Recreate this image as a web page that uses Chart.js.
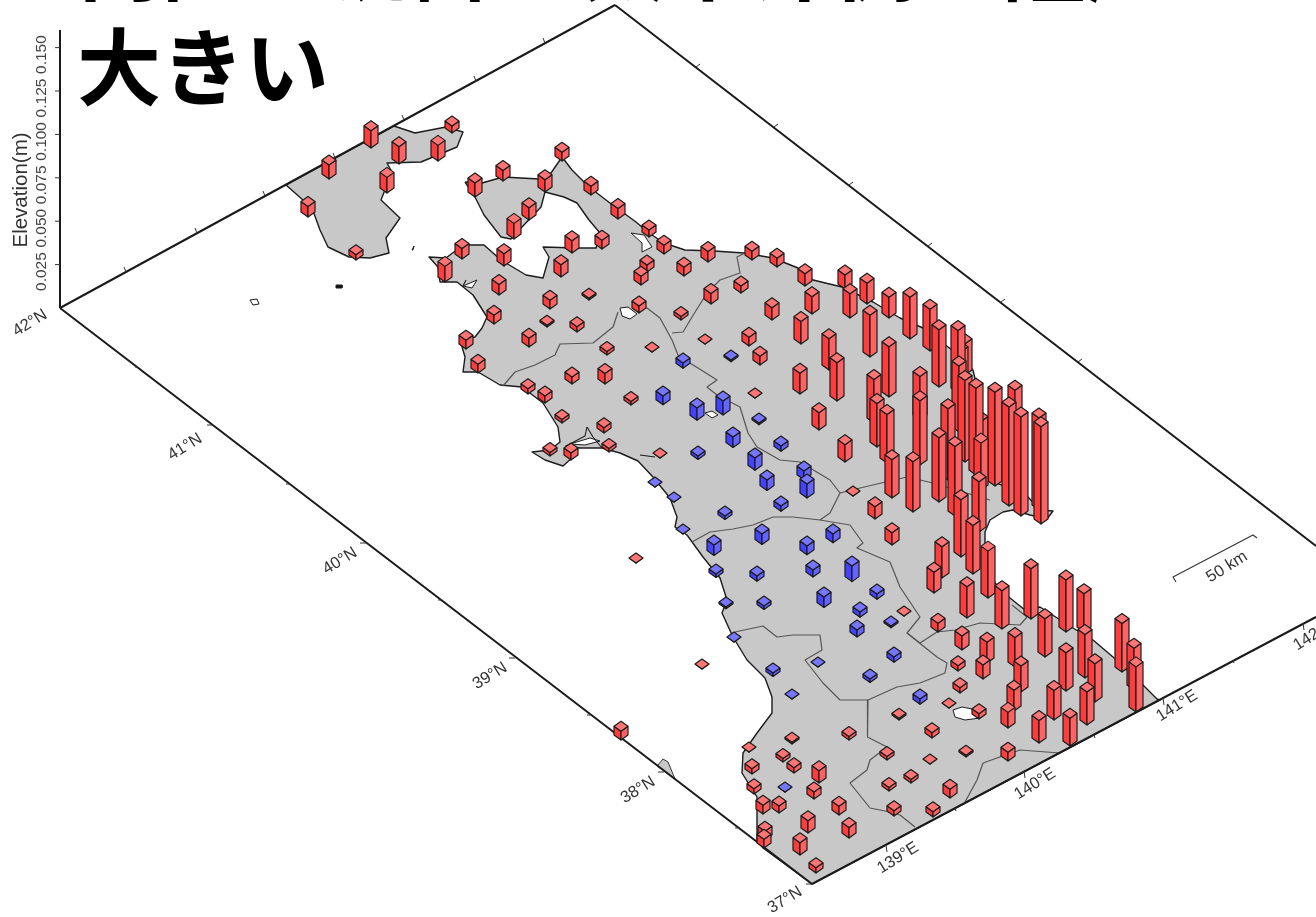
<!DOCTYPE html>
<html lang="ja">
<head>
<meta charset="utf-8">
<title>Elevation</title>
<script src="https://cdn.jsdelivr.net/npm/chart.js@4"></script>
<style>
  html, body { margin: 0; padding: 0; background: #fff; overflow: hidden; }
  #wrap { width: 1316px; height: 917px; }
  #map { display: block; filter: blur(0.6px); }
</style>
</head>
<body>
<div id="wrap"><canvas id="map" width="1316" height="917"></canvas></div>
<script>
// stations: x, y on the map plane, elevation change in metres
const redX = [452,371,399,438,329,387,308,356,475,503,545,562,591,618,529,514,649,664,572,602,462,504,561,445,499,647,641,550,589,639,494,547,577,466,478,528,545,607,529,684,711,741,681,705,652,749,760,572,605,631,755,562,604,550,571,609,660,708,752,777,805,845,850,867,889,910,930,939,958,965,961,959,965,976,995,1015,1009,1021,1039,1041,812,772,801,829,837,870,889,800,874,877,887,892,920,920,913,948,939,955,981,981,979,819,845,853,875,892,961,973,988,942,934,938,636,702,904,899,949,1031,1066,1084,1002,967,1045,1085,1122,1134,1136,1015,1021,987,983,962,1066,1095,1087,1054,1014,1008,1039,1070,958,960,932,979,1008,966,930,887,621,849,792,749,783,794,752,819,754,814,911,889,950,763,779,839,894,933,808,849,765,764,800,816];
const redY = [133,148,164,161,179,193,217,260,197,181,192,161,195,219,220,239,237,254,253,249,259,266,277,282,295,272,285,309,300,313,324,327,332,349,373,394,403,355,347,276,304,293,320,344,352,346,365,384,384,405,398,423,433,456,460,452,458,262,260,267,286,289,318,304,318,339,351,387,393,375,390,432,462,475,486,470,506,516,510,524,314,320,344,370,401,357,397,394,423,447,463,498,420,465,512,480,502,516,470,490,532,430,462,496,519,545,557,574,598,578,593,632,563,669,616,720,708,619,632,632,629,618,657,678,672,690,712,667,692,663,679,650,691,702,725,720,711,728,743,746,671,693,738,719,761,757,764,760,740,740,744,752,762,773,774,783,794,799,783,791,798,814,813,815,816,817,833,838,840,848,855,873];
const redZ = [.004,.010,.010,.009,.008,.009,.006,.003,.008,.006,.007,.005,.005,.006,.007,.009,.004,.005,.007,.005,.006,.007,.007,.009,.006,.004,.005,.005,.001,.004,.005,.001,.003,.005,.005,.003,.004,.002,.005,.005,.006,.004,.002,0,0,.005,.005,.004,.006,.002,0,.002,.003,.002,.004,.002,0,.006,.005,.005,.007,.008,.014,.012,.012,.024,.024,.033,.036,.018,.022,.038,.047,.050,.054,.046,.057,.057,.053,.056,.010,.007,.013,.018,.022,.024,.029,.012,.025,.025,.028,.022,.025,.037,.029,.041,.037,.040,.028,.027,.029,.010,.010,0,.007,.007,.033,.028,.027,.018,.012,.005,0,0,0,.001,0,.029,.030,.022,.022,.018,.022,.025,.028,.024,.026,.017,.015,.012,.008,.008,.022,.022,.019,.017,.012,.009,.013,.016,.003,.003,.003,.003,.005,.001,0,.002,.005,.002,.001,0,.002,.003,.003,.007,.003,.004,.002,.002,.005,.005,.004,.005,.003,.003,.007,.006,.005,.005,.007,.003];
const blueX = [731,683,663,697,723,759,733,755,698,655,674,725,683,781,781,804,807,767,714,762,807,833,852,716,757,813,824,877,726,764,860,891,857,734,894,818,773,870,792,920,785];
const blueY = [360,363,396,408,401,423,437,458,456,487,502,516,534,506,446,471,484,480,545,534,546,534,566,574,576,570,597,594,607,606,612,626,630,642,657,667,673,679,699,699,792];
const blueZ = [-.001,-.003,-.005,-.007,-.008,-.001,-.006,-.007,-.002,0,0,-.002,0,-.003,-.003,-.005,-.008,-.006,-.006,-.006,-.005,-.005,-.009,-.002,-.003,-.004,-.006,-.003,-.001,-.002,-.003,-.001,-.004,0,-.003,0,-.002,-.002,0,-.003,0];

const elevTicks = [0.025, 0.05, 0.075, 0.1, 0.125, 0.15];
const latLabels = ['42°N','41°N','40°N','39°N','38°N','37°N'];
const lonLabels = ['139°E','140°E','141°E','142°E'];
const titleLines = ['内陸は沈降、太平洋側で隆起が', '大きい'];

// map geometry
const mainLand = [[465,182],[482,183],[503,177],[539,179],[551,173],[562,157],[572,170],[589,187],[610,203],[636,222],[649,233],[664,243],[685,250],[714,251],[744,253],[773,258],[798,268],[813,280],[842,287],[873,302],[900,318],[923,328],[952,350],[973,370],[980,400],[985,440],[987,480],[1002,485],[1012,482],[1028,497],[1040,510],[1053,511],[1047,519],[1030,515],[1013,510],[1003,512],[990,520],[985,532],[985,550],[995,583],[1010,598],[1025,610],[1040,607],[1073,628],[1093,640],[1113,657],[1143,685],[1157,699],[1160,700],[812,884],[763,848],[757,840],[757,797],[742,773],[743,753],[757,733],[772,713],[772,697],[765,678],[747,660],[733,637],[722,613],[727,600],[720,578],[703,557],[687,535],[675,527],[677,517],[670,498],[653,477],[638,461],[620,453],[602,448],[580,448],[566,446],[573,457],[563,466],[545,460],[532,452],[550,450],[560,442],[558,427],[543,403],[522,387],[500,385],[478,372],[463,372],[465,357],[460,340],[475,337],[482,328],[487,317],[473,295],[457,282],[440,282],[438,267],[429,257],[446,258],[463,245],[484,245],[501,260],[526,275],[543,278],[549,257],[543,247],[577,248],[596,248],[600,233],[589,220],[577,203],[564,197],[545,192],[541,207],[522,227],[511,239],[501,237],[484,215],[475,197],[465,182]];
const northLand = [[286,185],[394,126],[415,133],[446,127],[463,132],[457,147],[421,162],[387,163],[392,172],[381,200],[400,218],[386,238],[389,253],[370,258],[349,257],[328,247],[320,230],[312,208],[286,185]];
const sliver = [[657,766],[663,759],[668,762],[675,779],[657,766]];
const islets = [
  [[250,300],[257,299],[259,304],[253,305],[250,300]],
  [[336,285],[342,285],[342,288],[336,288],[336,285]],
  [[412,250],[414,246],[413,250],[412,250]]
];
const lakes = [
  [[620,308],[628,307],[637,314],[630,319],[622,316],[620,308]],
  [[705,413],[712,411],[718,415],[712,418],[705,413]],
  [[953,710],[962,707],[977,710],[980,718],[965,720],[955,717],[953,710]],
  [[631,233],[644,235],[652,247],[642,252],[642,243],[631,233]],
  [[463,286],[477,280],[472,288],[463,286]],
  [[570,444],[590,438],[600,441],[585,445],[570,444]]
];
const borders = [
  [[503,386],[515,372],[535,365],[555,355],[560,344],[593,343],[613,327],[618,312]],
  [[637,310],[647,308],[660,318],[672,340],[678,355],[690,363],[717,380],[707,387],[717,395],[740,407],[748,433],[757,447],[780,460],[800,462],[830,480],[840,493],[830,513],[820,520]],
  [[672,333],[683,332],[692,317],[707,293],[720,280],[740,273],[737,257],[745,253]],
  [[840,493],[860,488],[907,477],[933,483],[990,500]],
  [[692,542],[710,532],[733,529],[753,525],[773,517],[793,517],[820,520],[850,525],[863,543],[857,548],[890,562],[900,587],[920,617],[907,633],[937,657],[947,663],[945,673],[920,683],[897,687],[868,700],[840,700],[823,683],[805,660],[822,650],[820,635],[793,635],[777,637],[763,626],[735,632]],
  [[868,700],[867,717],[868,737],[887,747],[870,760],[867,770],[850,783],[870,808],[890,812],[900,815],[915,827]],
  [[907,633],[920,643],[937,632],[955,630],[980,623],[1020,625],[1027,617],[1012,605]],
  [[965,802],[977,780],[983,763],[997,758],[1020,750],[1060,753]]
];
const spits = [[[566,446],[585,436],[587,427]], [[587,427],[593,437],[602,448]], [[640,455],[655,457]], [[463,286],[466,280]]];
const frameSides = [[[60,308],[615,5]], [[615,5],[1316,546]], [[60,308],[812,884]], [[812,884],[1316,617]], [[60,308],[60,30]]];
const scaleBar = [[1176,582],[1173,577],[1253,535],[1257,538]];

// tick marks: x, y where they leave the frame
const latTicks = [[213,425,6],[366,543,6],[515,658,6],[664,772,6],[812,884,6],[138,367,3],[289,484,3],[441,600,3],[590,715,3],[738,828,3]];
const lonTicks = [[886,845,7],[1024,771,7],[1163,698,7],[1303,623,7],[955,808,3],[1094,735,3],[1233,660,3]];
const topLeftTicks = [[126,272],[197,233],[265,196],[335,158],[404,120],[476,81],[545,43]];
const topRightTicks = [[696,67],[774,127],[849,185],[928,246],[1001,302],[1078,362]];

// where the rotated labels sit
const latLabelX = [30,185,340,490,638,785];
const latLabelY = [323,447,561,676,790,900];
const lonLabelX = [898,1035,1177,1314];
const lonLabelY = [858,784,706,635];

const PX_PER_M = 1736;   // elevation axis: 0.025 m is 43.4 px
const BASE_Y = 308;
const HALF_W = 7, DIAMOND = 10;

const RED = { left: '#ff3c3c', right: '#ff6262', top: '#ff7474' };
const BLUE = { left: '#4242ff', right: '#6464ff', top: '#7676ff' };
const INK = '#1c1c1c';

var layers = [];

function toPoints(list) {
  return list.map(function (p) { return { x: p[0], y: p[1] }; });
}

function poly(list, fillColor, lineColor, width) {
  layers.push({
    data: toPoints(list),
    showLine: true,
    pointRadius: 0,
    borderColor: lineColor,
    borderWidth: width,
    backgroundColor: fillColor || 'transparent',
    fill: fillColor ? 'shape' : false,
    tension: 0,
    borderJoinStyle: 'round',
    clip: false
  });
}

function addBar(x, y, z, col) {
  var up = Math.max(z, 0) * PX_PER_M;
  var down = Math.max(-z, 0) * PX_PER_M;
  var b = y + down;            // front corner at the foot
  var t = y - up;              // front corner of the top face
  poly([[x - HALF_W, t - DIAMOND / 2], [x, t], [x, b], [x - HALF_W, b - DIAMOND / 2], [x - HALF_W, t - DIAMOND / 2]], col.left, INK, 1.2);
  poly([[x + HALF_W, t - DIAMOND / 2], [x, t], [x, b], [x + HALF_W, b - DIAMOND / 2], [x + HALF_W, t - DIAMOND / 2]], col.right, INK, 1.2);
  poly([[x, t], [x + HALF_W, t - DIAMOND / 2], [x, t - DIAMOND], [x - HALF_W, t - DIAMOND / 2], [x, t]], col.top, INK, 1.2);
}

poly(northLand, '#c8c8c8', INK, 1.4);
poly(mainLand, '#c8c8c8', INK, 1.4);
poly(sliver, '#c8c8c8', '#333', 1);
islets.forEach(function (s, i) { poly(s, i == 1 ? '#111' : '#fff', INK, 1); });
borders.forEach(function (b) { poly(b, null, '#555', 1.2); });
lakes.forEach(function (l) { poly(l, '#fff', INK, 1); });
spits.forEach(function (s) { poly(s, null, INK, 1.1); });

frameSides.forEach(function (s) { poly(s, null, '#1a1a1a', 2); });
latTicks.forEach(function (t) { poly([[t[0], t[1]], [t[0] - t[2], t[1]]], null, '#333', 1); });
lonTicks.forEach(function (t) { poly([[t[0], t[1]], [t[0] + 1, t[1] + t[2]]], null, '#333', 1); });
topLeftTicks.forEach(function (t) { poly([[t[0], t[1]], [t[0] - 2, t[1] - 5]], null, '#333', 1); });
topRightTicks.forEach(function (t) { poly([[t[0], t[1]], [t[0] + 4, t[1] - 3]], null, '#333', 1); });
elevTicks.forEach(function (v) {
  var y = BASE_Y - v * PX_PER_M;
  poly([[55, y], [60, y]], null, '#333', 1);
});
poly(scaleBar, null, '#333', 1.1);

// far stations first so the nearer ones cover them
var bars = [];
redX.forEach(function (x, i) { bars.push({ x: x, y: redY[i], z: redZ[i], col: RED }); });
blueX.forEach(function (x, i) { bars.push({ x: x, y: blueY[i], z: blueZ[i], col: BLUE }); });
bars.sort(function (a, b) {
  return (a.y - Math.min(a.z, 0) * PX_PER_M) - (b.y - Math.min(b.z, 0) * PX_PER_M);
});
bars.forEach(function (b) { addBar(b.x, b.y, b.z, b.col); });

// chart.js paints the first dataset last
layers.reverse();

function rotatedText(ctx, chart, text, x, y, angle, font, color) {
  ctx.save();
  ctx.translate(chart.scales.x.getPixelForValue(x), chart.scales.y.getPixelForValue(y));
  ctx.rotate(angle);
  ctx.font = font;
  ctx.fillStyle = color;
  ctx.textAlign = 'center';
  ctx.textBaseline = 'middle';
  ctx.fillText(text, 0, 0);
  ctx.restore();
}

const labelPlugin = {
  id: 'labels',
  afterDatasetsDraw: function (chart) {
    var ctx = chart.ctx;
    var tilt = -32 * Math.PI / 180;
    var helv = '"Liberation Sans", Arial, sans-serif';
    latLabels.forEach(function (s, i) {
      rotatedText(ctx, chart, s, latLabelX[i], latLabelY[i], tilt, '16.5px ' + helv, '#333');
    });
    lonLabels.forEach(function (s, i) {
      rotatedText(ctx, chart, s, lonLabelX[i], lonLabelY[i], tilt, '16.5px ' + helv, '#333');
    });
    rotatedText(ctx, chart, '50 km', 1227, 567, tilt, '16.5px ' + helv, '#333');
    elevTicks.forEach(function (v) {
      rotatedText(ctx, chart, v.toFixed(3), 42, BASE_Y - v * PX_PER_M + 7, -Math.PI / 2, '15.5px ' + helv, '#444');
    });
    rotatedText(ctx, chart, 'Elevation(m)', 21, 190, -Math.PI / 2, '20.5px ' + helv, '#333');

    ctx.save();
    ctx.font = '700 84px "Noto Sans CJK JP", sans-serif';
    ctx.fillStyle = '#000';
    ctx.textAlign = 'left';
    ctx.textBaseline = 'alphabetic';
    ctx.fillText(titleLines[0], 78, -6);
    ctx.fillText(titleLines[1], 77, 99);
    ctx.restore();
  }
};

new Chart(document.getElementById('map'), {
  type: 'scatter',
  data: { datasets: layers },
  plugins: [labelPlugin],
  options: {
    responsive: false,
    animation: false,
    events: [],
    layout: { padding: 0 },
    plugins: { legend: { display: false }, title: { display: false }, tooltip: { enabled: false } },
    scales: {
      x: { type: 'linear', min: 0, max: 1316, display: false },
      y: { type: 'linear', min: 0, max: 917, reverse: true, display: false }
    }
  }
});
</script>
</body>
</html>
